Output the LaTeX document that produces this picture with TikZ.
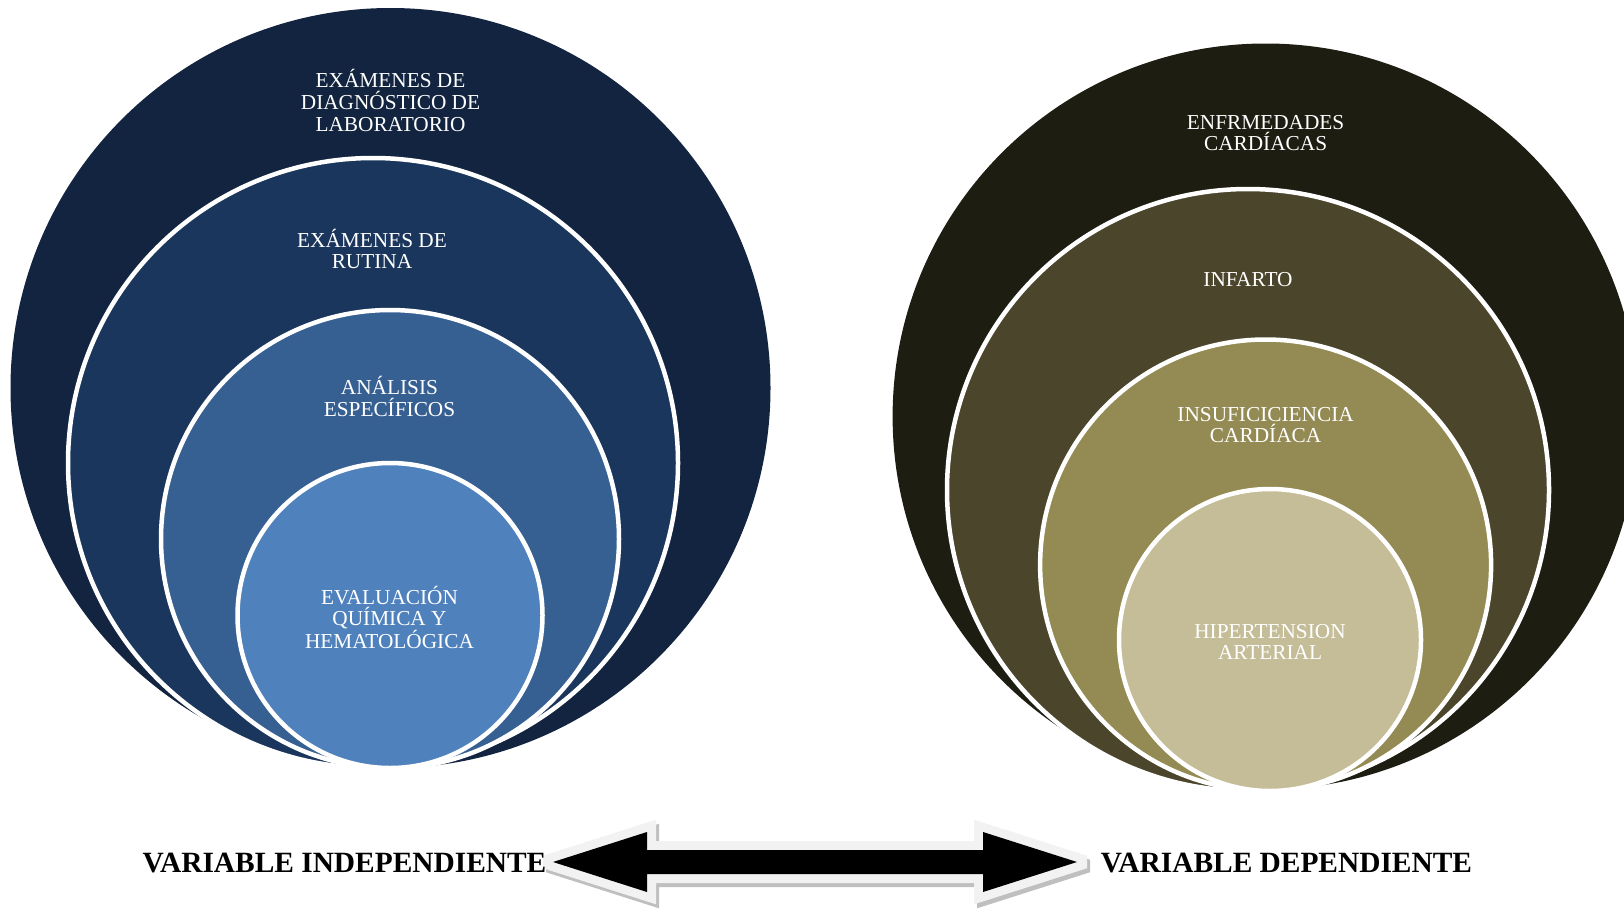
\documentclass[tikz,border=0pt]{standalone}
\usepackage{fontspec}
\setmainfont{Liberation Serif}
\definecolor{navyA}{HTML}{12243F}
\definecolor{navyB}{HTML}{1B365C}
\definecolor{navyC}{HTML}{376092}
\definecolor{navyD}{HTML}{4F81BD}
\definecolor{oliveA}{HTML}{1E1D12}
\definecolor{oliveB}{HTML}{4A452B}
\definecolor{oliveC}{HTML}{948A54}
\definecolor{oliveD}{HTML}{C4BD97}
\definecolor{rimgray}{HTML}{F2F2F2}
\definecolor{shadegray}{HTML}{BFBFBF}
\begin{document}
\begin{tikzpicture}[x=1pt,y=-1pt,
  disc/.style={circle, inner sep=0pt, outer sep=0pt, minimum size=#1},
  ring/.style={disc=#1, draw=white, line width=4.5pt},
  lbl/.style={text=white, align=center, inner sep=0pt,
              font=\fontsize{21.3}{21.7}\selectfont},
  varlbl/.style={text=black, inner sep=0pt,
                 font=\bfseries\fontsize{29.4}{30}\selectfont},
]
\useasboundingbox (0,0) rectangle (1624,910);
\clip (0,0) rectangle (1624,910);

% ---- independent variable: nested circles ----
\node[disc=760pt, fill=navyA]  (L1) at (390.5,388) {};
\node[ring=610pt, fill=navyB]  (L2) at (373,463) {};
\node[ring=458pt, fill=navyC]  (L3) at (390,539) {};
\node[ring=305pt, fill=navyD]  (L4) at (390,615.5) {};

\node[lbl] (tL1) at (390.5,100.5) {EXÁMENES DE\\DIAGNÓSTICO DE\\LABORATORIO};
\node[lbl] (tL2) at (372,249) {EXÁMENES DE\\RUTINA};
\node[lbl] (tL3) at (389.5,396.5) {ANÁLISIS\\ESPECÍFICOS};
\node[lbl] (tL4) at (389.5,617.3) {EVALUACIÓN\\QUÍMICA Y\\HEMATOLÓGICA};

% ---- dependent variable: nested circles ----
\node[disc=746pt, fill=oliveA] (R1) at (1265.6,416.5) {};
\node[ring=602pt, fill=oliveB] (R2) at (1248,490) {};
\node[ring=451pt, fill=oliveC] (R3) at (1265.6,565) {};
\node[ring=302pt, fill=oliveD] (R4) at (1270,640) {};

\node[lbl] (tR1) at (1265.6,133) {ENFRMEDADES\\CARDÍACAS};
\node[lbl] (tR2) at (1248,279.6) {INFARTO};
\node[lbl] (tR3) at (1265.6,425) {INSUFICICIENCIA\\CARDÍACA};
\node[lbl] (tR4) at (1270,642) {HIPERTENSION\\ARTERIAL};

% ---- double block arrow between the two labels ----
% rim: the body outline grown by 9pt, tips trimmed
\def\arrowrim{(543,855.75) -- (656,819.7) -- (656,841) -- (974,841) -- (974,819.7)
  -- (1087,855.75) -- (1087,868.25) -- (974,904.3) -- (974,883) -- (656,883)
  -- (656,904.3) -- (543,868.25) -- cycle}
\def\arrowbody{(553,862) -- (647,832) -- (647,850) -- (983,850) -- (983,832)
  -- (1077,862) -- (983,892) -- (983,874) -- (647,874) -- (647,892) -- cycle}
\begin{scope}[shift={(3,4)}]
  \fill[shadegray] \arrowrim;
\end{scope}
\fill[rimgray] \arrowrim;
\fill[black] \arrowbody;

\node[varlbl] (vind) at (344.5,863) {VARIABLE INDEPENDIENTE};
\node[varlbl] (vdep) at (1286.5,863) {VARIABLE DEPENDIENTE};
\end{tikzpicture}
\end{document}
